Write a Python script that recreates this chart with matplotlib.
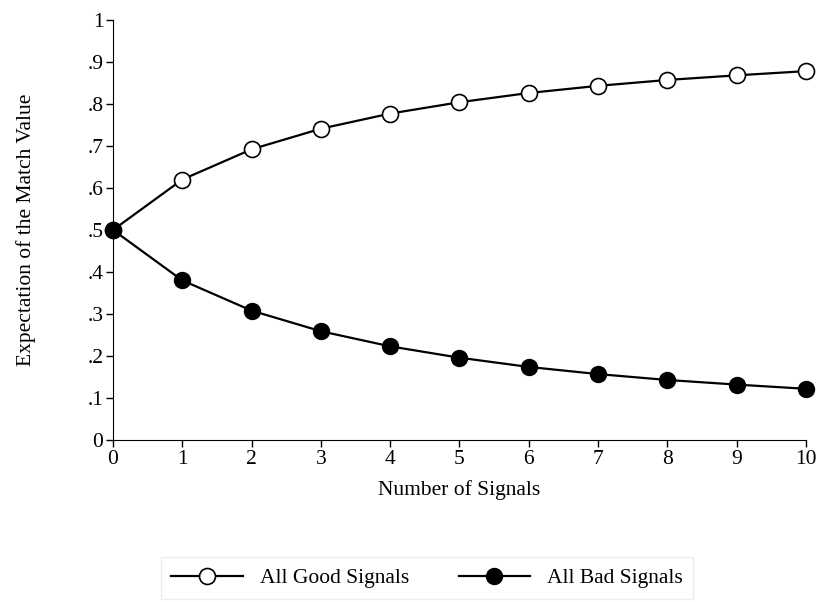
import numpy as np
import matplotlib
matplotlib.use('Agg')
import matplotlib.pyplot as plt

plt.rcParams['font.family'] = ['Liberation Serif', 'DejaVu Serif']

signals = list(range(11))
good = [0.5, 0.62, 0.692, 0.741, 0.777, 0.804, 0.826, 0.843, 0.857, 0.868, 0.878]
bad = [0.5, 0.38, 0.308, 0.259, 0.223, 0.196, 0.174, 0.157, 0.143, 0.132, 0.122]
yticks = [0, .1, .2, .3, .4, .5, .6, .7, .8, .9, 1]
ytick_labels = ['0', '.1', '.2', '.3', '.4', '.5', '.6', '.7', '.8', '.9', '1']

fig = plt.figure(figsize=(8.22, 6.02), dpi=100)
ax = fig.add_axes([0.1375, 0.269, 0.843, 0.698])

ax.plot(signals, good, color='black', lw=1.6, marker='o', ms=11.5,
        mfc='white', mec='black', mew=1.2, label='All Good Signals', clip_on=False, zorder=3)
ax.plot(signals, bad, color='black', lw=1.6, marker='o', ms=11.5,
        mfc='black', mec='black', label='All Bad Signals', clip_on=False, zorder=4)

ax.set_xlim(0, 10)
ax.set_ylim(0, 1)
ax.set_xticks(signals)
ax.set_yticks(yticks)
ax.set_yticklabels(ytick_labels)
ax.tick_params(labelsize=15.5, direction='out', length=5, width=1, pad=2)
for s in ['top', 'right']:
    ax.spines[s].set_visible(False)
ax.set_xlabel('Number of Signals', fontsize=15.5, labelpad=8)
ax.set_ylabel('Expectation of the Match Value', fontsize=15.5, labelpad=37)

leg = ax.legend(loc='center', bbox_to_anchor=(427 / 822, 1 - 578 / 602),
                bbox_transform=fig.transFigure, ncol=2, fontsize=15.5,
                frameon=True, fancybox=False, edgecolor='#e6eaea',
                handlelength=3.3, columnspacing=2.3, borderpad=0.5)
leg.get_frame().set_linewidth(1)

fig.savefig('out.png', dpi=100)
